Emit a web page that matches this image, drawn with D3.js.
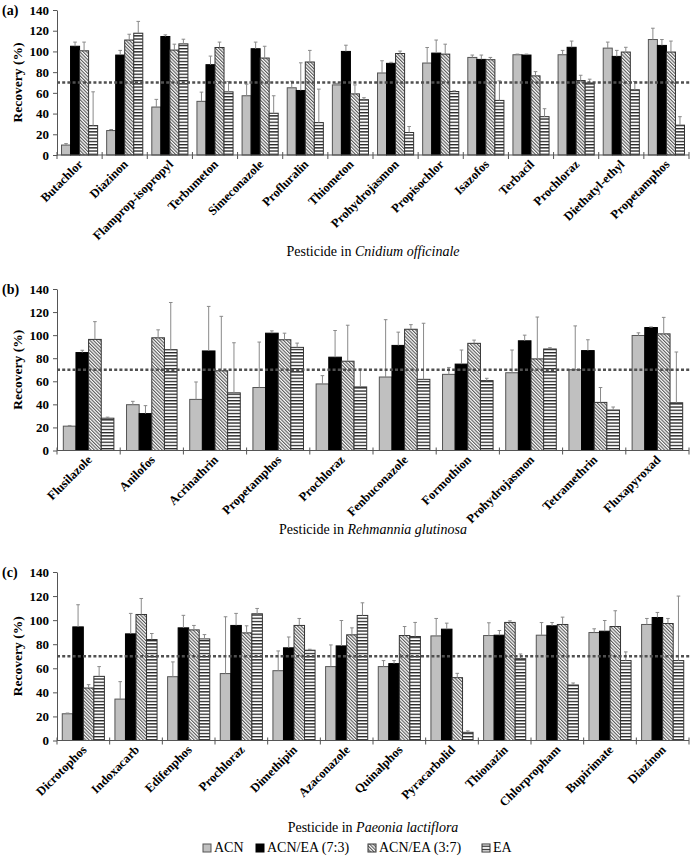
<!DOCTYPE html>
<html><head><meta charset="utf-8">
<script src="https://cdn.jsdelivr.net/npm/d3@7"></script>
<style>body{margin:0;background:#fff}svg{display:block}</style>
</head><body>
<svg id="chart" width="690" height="862"></svg>
<script>
const series = ["ACN","ACN/EA (7:3)","ACN/EA (3:7)","EA"];
const yTicks = [0,20,40,60,80,100,120,140];
const threshold = 70;

// Panel (a) Cnidium officinale
const catsA = ["Butachlor","Diazinon","Flamprop-isopropyl","Terbumeton","Simeconazole","Profluralin","Thiometon","Prohydrojasmon","Propisochlor","Isazofos","Terbacil","Prochloraz","Diethatyl-ethyl","Propetamphos"];
const acnA   = [9.6,23.6,46.3,51.8,57.2,64.9,67.7,79.2,88.8,94.2,96.8,96.8,103.2,111.5];
const acnAsd = [1.4,1.0,7.4,8.9,11.2,6.3,1.5,11.8,15.0,2.3,0.6,4.2,5.8,10.9];
const e73A   = [105,96.5,114.4,87.2,102.6,62.3,100,88.5,98.4,92.3,96.5,104,95.2,105.8];
const e73Asd = [4.0,4.5,1.6,8.3,6.4,26.7,6.0,1.0,12.6,4.2,0.9,6.0,5.8,5.7];
const e37A   = [100.6,111,101.3,103.8,93.6,89.8,59,98,97.4,92,76.4,71.9,99.4,99.4];
const e37Asd = [8.4,5.6,5.7,5.2,11.4,11.2,8.7,2.3,9.6,2.2,4.1,5.1,4.6,10.6];
const eaA    = [28.4,117.6,107.3,61,40.3,31.3,53.4,21.7,61.3,52.7,37,69.6,63,28.8];
const eaAsd  = [32.6,11.4,4.5,10,16.9,32.3,1.9,5.8,0.7,18.9,7.7,3.6,8,8.2];

// Panel (b) Rehmannia glutinosa
const catsB = ["Flusilazole","Anilofos","Acrinathrin","Propetamphos","Prochloraz","Fenbuconazole","Formothion","Prohydrojasmon","Tetramethrin","Fluxapyroxad"];
const acnB   = [21.1,39.7,44.3,54.6,57.7,63.7,66,67.4,70,99.7];
const acnBsd = [0.6,2.9,15.1,39.4,7.2,49.7,6,19.7,38,2.3];
const e73B   = [84.9,32,86.3,101.7,80.9,91.1,74.9,95.1,86.6,106.6];
const e73Bsd = [2,6.9,38.6,2,23.1,11.5,12.2,4.9,9.4,0.5];
const e37B   = [96.3,97.7,69.1,96,77.4,105.1,92.9,79.4,41.7,101.1];
const e37Bsd = [15.4,6.9,47.2,5.7,31.2,4,2.8,36.3,12.9,14.3];
const eaB    = [28,87.4,50,89.4,55.1,61.7,60.6,88,35.1,41.4];
const eaBsd  = [0.9,40.9,43.4,3.7,15.5,48.6,2,1.1,2.6,44];

// Panel (c) Paeonia lactiflora
const catsC = ["Dicrotophos","Indoxacarb","Edifenphos","Prochloraz","Dimethipin","Azaconazole","Quinalphos","Pyracarbolid","Thionazin","Chlorpropham","Bupirimate","Diazinon"];
const acnC   = [22.2,34.4,53,55.6,58,61.4,61.4,86.9,87.2,87.5,89.7,96.4];
const acnCsd = [0.6,14.5,12.3,47.2,16.4,18,5,14.5,10.6,10.5,3.1,5];
const e73C   = [94.4,88.6,93.6,95.6,77,78.6,63.9,92.5,87.5,95.3,90.8,102.2];
const e73Csd = [18.4,17,10.4,10,9,21.1,2.5,5,3.9,2.7,8.9,4.2];
const e37C   = [43.6,104.7,91.9,89.4,95.6,87.8,87.2,52.2,98.1,96.4,94.7,97.2];
const e37Csd = [2.8,13.3,3.7,5.9,5.8,5.8,7.5,3.6,1.3,6.1,13.1,4.2];
const eaC    = [53.3,83.9,84.4,105.3,75,103.9,86.4,6.8,68,46.1,66.4,66.4];
const eaCsd  = [8.1,5,3.6,4.4,0.8,10.5,11.7,1.2,3.9,1.7,7.2,53.6];

const svg = d3.select("#chart");
const serif = "Liberation Serif";

// patterns
const defs = svg.append("defs");
const ph = defs.append("pattern").attr("id","hatch").attr("patternUnits","userSpaceOnUse")
  .attr("width",2.4).attr("height",2.4).attr("patternTransform","rotate(-45)");
ph.append("rect").attr("width",2.4).attr("height",2.4).attr("fill","#fff");
ph.append("line").attr("x1",0.6).attr("x2",0.6).attr("y1",0).attr("y2",2.4).attr("stroke","#444").attr("stroke-width",1);
const pl = defs.append("pattern").attr("id","hlines").attr("patternUnits","userSpaceOnUse")
  .attr("width",6).attr("height",3.2);
pl.append("rect").attr("width",6).attr("height",3.2).attr("fill","#fff");
pl.append("rect").attr("y",0).attr("width",6).attr("height",1.3).attr("fill","#222");

const fills = ["#c0c0c0","#000","url(#hatch)","url(#hlines)"];
const strokes = ["#555","#000","#333","#333"];

const panels = [
  {tag:"(a)", cats:catsA, vals:[acnA,e73A,e37A,eaA], sds:[acnAsd,e73Asd,e37Asd,eaAsd], top:10, bottom:155, species:"Cnidium officinale", titleY:256},
  {tag:"(b)", cats:catsB, vals:[acnB,e73B,e37B,eaB], sds:[acnBsd,e73Bsd,e37Bsd,eaBsd], top:289, bottom:450.5, species:"Rehmannia glutinosa", titleY:534},
  {tag:"(c)", cats:catsC, vals:[acnC,e73C,e37C,eaC], sds:[acnCsd,e73Csd,e37Csd,eaCsd], top:572, bottom:740.5, species:"Paeonia lactiflora", titleY:832}
];

const left = 57, right = 689;

panels.forEach(p => {
  const g = svg.append("g");
  const x0 = d3.scaleBand().domain(p.cats).range([left,right]).padding(0);
  const x1 = d3.scaleBand().domain(series).range([0,x0.bandwidth()]).paddingInner(0).paddingOuter(0.5);
  const y = d3.scaleLinear().domain([0,140]).range([p.bottom,p.top]);

  // y axis
  const ya = g.append("g").attr("transform",`translate(${left},0)`)
    .call(d3.axisLeft(y).tickValues(yTicks).tickSize(4).tickSizeOuter(0));
  ya.select(".domain").attr("stroke","#555");
  ya.selectAll(".tick line").attr("stroke","#555");
  ya.selectAll(".tick text").attr("font-family",serif).attr("font-weight","bold").attr("font-size",13).attr("fill","#000").attr("x",-8);

  // bars
  series.forEach((s,si) => {
    const vals = p.vals[si], sds = p.sds[si];
    const data = p.cats.map((c,i)=>({c, v:vals[i], sd:sds[i]}));
    const bg = g.append("g");
    bg.selectAll("rect").data(data).join("rect")
      .attr("x",d=>x0(d.c)+x1(s)).attr("width",x1.bandwidth())
      .attr("y",d=>y(d.v)).attr("height",d=>y(0)-y(d.v))
      .attr("fill",fills[si]).attr("stroke",strokes[si]).attr("stroke-width",1);
    const eg = g.append("g").attr("stroke","#8a8a8a").attr("stroke-width",1);
    eg.selectAll("line.v").data(data).join("line").attr("class","v")
      .attr("x1",d=>x0(d.c)+x1(s)+x1.bandwidth()/2).attr("x2",d=>x0(d.c)+x1(s)+x1.bandwidth()/2)
      .attr("y1",d=>y(d.v)).attr("y2",d=>y(d.v+d.sd));
    eg.selectAll("line.c").data(data).join("line").attr("class","c")
      .attr("x1",d=>x0(d.c)+x1(s)+x1.bandwidth()/2-1.8).attr("x2",d=>x0(d.c)+x1(s)+x1.bandwidth()/2+1.8)
      .attr("y1",d=>y(d.v+d.sd)).attr("y2",d=>y(d.v+d.sd));
  });

  // threshold line
  g.append("line").attr("x1",left).attr("x2",right+1).attr("y1",y(threshold)).attr("y2",y(threshold))
    .attr("stroke","#505050").attr("stroke-width",2.6).attr("stroke-dasharray","3,2.2");

  // x axis
  const xa = g.append("g").attr("transform",`translate(0,${y(0)})`);
  xa.append("line").attr("x1",left).attr("x2",right).attr("stroke","#555");
  const bounds = p.cats.map(c=>x0(c)).concat([right]);
  xa.selectAll("line.t").data(bounds).join("line").attr("class","t")
    .attr("x1",d=>d).attr("x2",d=>d).attr("y1",-3).attr("y2",4).attr("stroke","#555");
  xa.selectAll("text").data(p.cats).join("text")
    .attr("transform",d=>`translate(${x0(d)+x0.bandwidth()/2+4},${10}) rotate(-45)`)
    .attr("text-anchor","end").attr("font-family",serif).attr("font-weight","bold").attr("font-size",12.5)
    .text(d=>d);

  // y title
  g.append("text").attr("transform",`translate(22,${(p.top+p.bottom)/2}) rotate(-90)`)
    .attr("text-anchor","middle").attr("font-family",serif).attr("font-weight","bold").attr("font-size",13.5)
    .text("Recovery (%)");
  // panel tag
  g.append("text").attr("x",2).attr("y",p.top+4.5).attr("font-family",serif).attr("font-weight","bold").attr("font-size",14).text(p.tag);
  // x title
  const t = g.append("text").attr("x",(left+right)/2).attr("y",p.titleY).attr("text-anchor","middle")
    .attr("font-family",serif).attr("font-size",14);
  t.append("tspan").text("Pesticide in ");
  t.append("tspan").attr("font-style","italic").text(p.species);
});

// legend
const legX = [203, 256, 368, 482];
const lg = svg.append("g").attr("transform","translate(0,852)");
series.forEach((s,i)=>{
  lg.append("rect").attr("x",legX[i]).attr("y",-8).attr("width",8).attr("height",8)
    .attr("fill",fills[i]).attr("stroke",strokes[i]).attr("stroke-width",1);
  lg.append("text").attr("x",legX[i]+11).attr("y",0).attr("font-family",serif).attr("font-size",14).text(s);
});
</script>
</body></html>
